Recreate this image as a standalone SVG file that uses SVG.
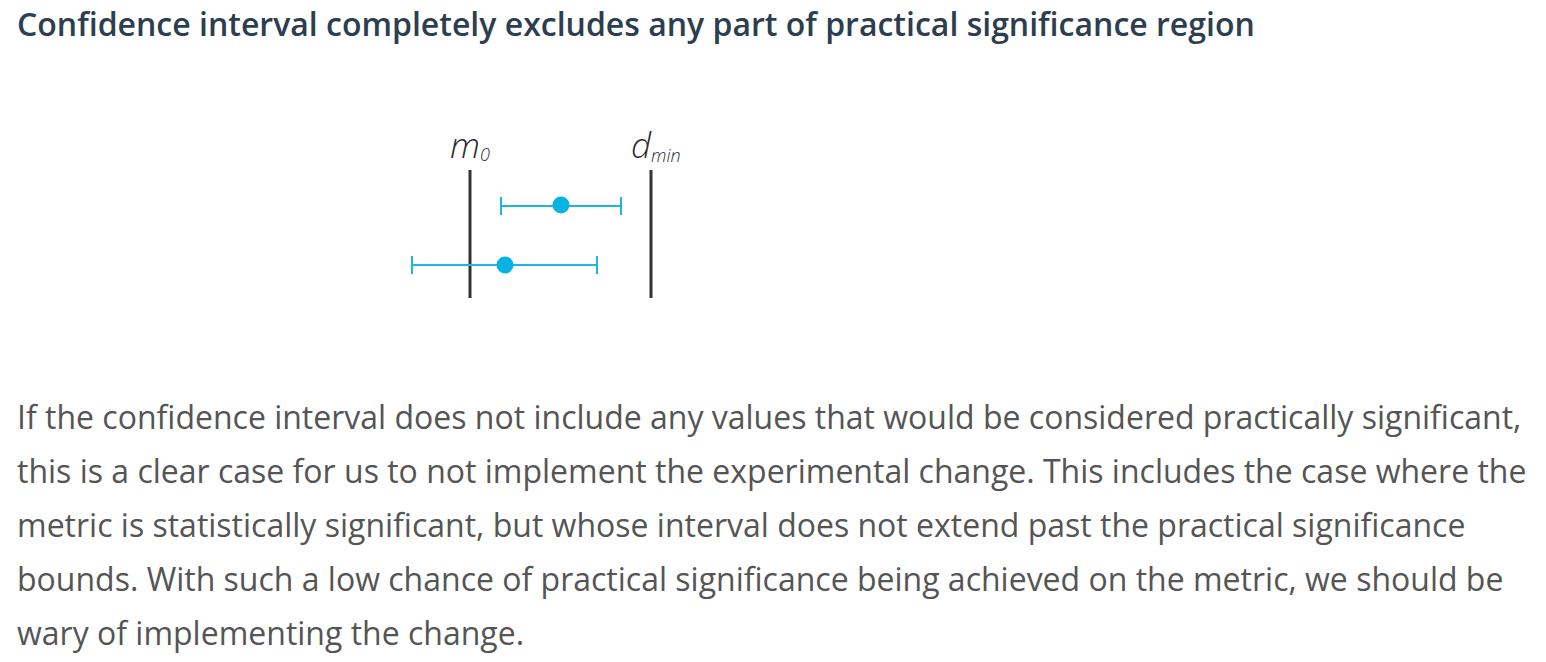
<svg xmlns="http://www.w3.org/2000/svg" width="1546" height="662" viewBox="0 0 1546 662">
<style>
.title{font-family:"Open Sans","Liberation Sans",sans-serif;font-weight:600;font-size:32px;fill:#2c3e50}
.body{font-family:"Open Sans","Liberation Sans",sans-serif;font-size:32px;fill:#555555}
.lbl{font-family:"Open Sans","Liberation Sans",sans-serif;font-style:italic;font-weight:300;fill:#2e2e2e}
.ref{stroke:#333333;stroke-width:3;fill:none}
.ci{stroke:#1eb4e4;stroke-width:2;fill:none}
.pt{fill:#08b2e3}
</style>
<rect width="1546" height="662" fill="#ffffff"/>
<text class="title" x="17" y="36">Confidence interval completely excludes any part of practical significance region</text>
<g id="m0">
<line class="ref" x1="470" y1="170" x2="470" y2="298"/>
<text class="lbl" x="450" y="158" font-size="35">m<tspan font-size="18" dy="3">0</tspan></text>
</g>
<g id="dmin">
<line class="ref" x1="651" y1="170" x2="651" y2="298"/>
<text class="lbl" x="631" y="158" font-size="35">d<tspan font-size="18" dy="4">min</tspan></text>
</g>
<g id="interval-upper">
<path class="ci" d="M501 206H621M501 197V215M621 197V215"/>
<circle class="pt" cx="561" cy="205" r="8.5"/>
</g>
<g id="interval-lower">
<path class="ci" d="M412 265H597M412 256V274M597 256V274"/>
<circle class="pt" cx="505" cy="265" r="8.5"/>
</g>
<g id="paragraph">
<text class="body" x="17" y="429">If the confidence interval does not include any values that would be considered practically significant,</text>
<text class="body" x="17" y="483">this is a clear case for us to not implement the experimental change. This includes the case where the</text>
<text class="body" x="17" y="537">metric is statistically significant, but whose interval does not extend past the practical significance</text>
<text class="body" x="17" y="591">bounds. With such a low chance of practical significance being achieved on the metric, we should be</text>
<text class="body" x="17" y="645">wary of implementing the change.</text>
</g>
</svg>
